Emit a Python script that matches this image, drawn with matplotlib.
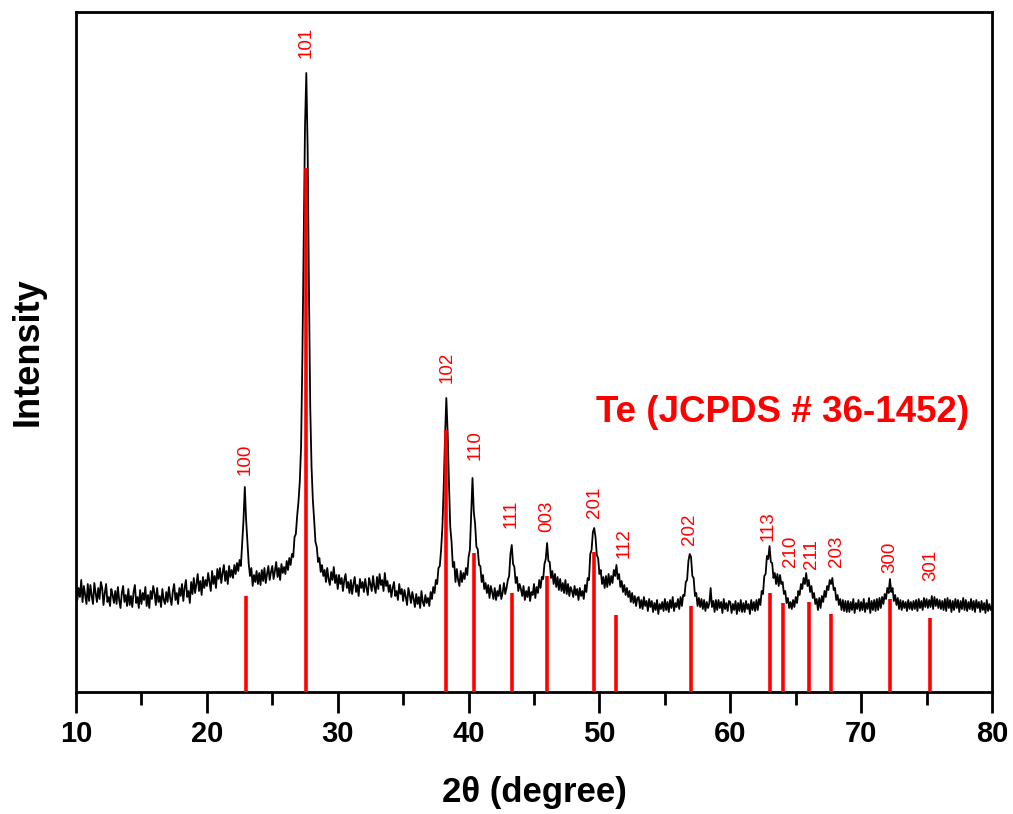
import matplotlib
matplotlib.use("Agg")
import matplotlib.pyplot as plt
import numpy as np

# ---- measured XRD trace: 2theta from 10.0 to 80.0, step 0.1 deg ----
two_theta_start = 10.0
two_theta_step = 0.1
intensity = [
    110, 92, 104, 95, 112, 90, 106, 97, 88, 108,      # 10
    91, 107, 96, 88, 109, 99, 90, 104, 93, 110,       # 11
    104, 87, 99, 108, 90, 95, 86, 103, 97, 89,        # 12
    101, 88, 105, 92, 84, 99, 106, 90, 97, 86,        # 13
    103, 87, 96, 85, 100, 107, 89, 95, 84, 102,       # 14
    88, 99, 92, 105, 86, 97, 84, 101, 93, 106,        # 15
    99, 87, 104, 90, 96, 85, 103, 92, 88, 100,        # 16
    90, 105, 94, 87, 101, 108, 92, 99, 88, 104,       # 17
    96, 108, 91, 104, 112, 95, 101, 89, 110, 98,      # 18
    114, 99, 108, 118, 101, 111, 97, 115, 104, 112,   # 19
    106, 119, 110, 101, 121, 108, 116, 104, 123, 113, # 20
    124, 109, 119, 127, 111, 121, 108, 126, 115, 122, # 21
    114, 127, 118, 129, 121, 132, 126, 150, 172, 205, # 22
    172, 150, 128, 116, 124, 106, 117, 110, 121, 108, # 23
    119, 107, 122, 111, 124, 109, 118, 126, 112, 120, # 24
    126, 113, 121, 130, 115, 124, 112, 128, 119, 125, # 25
    118, 131, 122, 134, 127, 138, 135, 155, 158, 176, # 26
    190, 210, 245, 335, 455, 565, 619, 545, 405, 285, # 27
    225, 192, 172, 150, 145, 130, 134, 120, 127, 116, # 28
    122, 110, 124, 113, 107, 120, 112, 125, 109, 117, # 29
    103, 117, 108, 114, 101, 112, 118, 104, 110, 99,  # 30
    112, 98, 108, 115, 100, 107, 96, 113, 104, 110,   # 31
    100, 113, 104, 97, 114, 108, 101, 116, 105, 99,   # 32
    115, 103, 118, 107, 112, 101, 119, 106, 111, 100, # 33
    107, 95, 104, 110, 96, 101, 92, 108, 98, 103,     # 34
    91, 102, 95, 87, 104, 97, 89, 100, 93, 85,        # 35
    98, 88, 95, 84, 101, 90, 86, 97, 89, 94,          # 36
    86, 100, 93, 105, 99, 112, 108, 124, 126, 142,    # 37
    165, 205, 255, 294, 260, 210, 165, 150, 125, 130, # 38
    110, 123, 112, 106, 121, 110, 119, 113, 124, 117, # 39
    135, 142, 178, 214, 180, 168, 145, 143, 127, 126, # 40
    110, 117, 103, 109, 99, 107, 94, 106, 100, 93,    # 41
    104, 92, 101, 96, 107, 93, 99, 109, 98, 104,      # 42
    112, 116, 138, 147, 128, 125, 109, 115, 101, 108, # 43
    103, 96, 106, 92, 101, 95, 105, 91, 100, 97,      # 44
    108, 94, 105, 99, 112, 104, 115, 113, 128, 133,   # 45
    149, 131, 130, 114, 121, 108, 118, 105, 115, 102, # 46
    113, 101, 109, 99, 112, 98, 108, 96, 105, 101,    # 47
    95, 106, 97, 103, 92, 104, 96, 101, 93, 107,      # 48
    100, 114, 112, 138, 142, 160, 164, 155, 137, 134, # 49
    118, 122, 108, 115, 104, 116, 105, 118, 107, 116, # 50
    109, 122, 116, 127, 113, 118, 105, 111, 100, 107, # 51
    97, 104, 95, 101, 90, 99, 89, 96, 86, 94,         # 52
    95, 84, 92, 83, 95, 86, 91, 81, 93, 85,           # 53
    91, 80, 89, 82, 92, 78, 88, 83, 90, 81,           # 54
    93, 82, 90, 80, 92, 84, 95, 81, 89, 85,           # 55
    93, 83, 95, 86, 97, 96, 110, 112, 131, 138,       # 56
    135, 116, 114, 96, 99, 86, 94, 85, 93, 83,        # 57
    92, 81, 90, 84, 89, 104, 85, 91, 80, 92,          # 58
    82, 92, 84, 90, 79, 93, 83, 89, 81, 91,           # 59
    90, 79, 88, 82, 91, 78, 89, 81, 92, 80,           # 60
    89, 80, 91, 83, 88, 78, 92, 82, 90, 81,           # 61
    92, 82, 93, 87, 101, 98, 116, 118, 136, 133,      # 62
    146, 130, 129, 114, 119, 108, 118, 106, 117, 108, # 63
    110, 98, 101, 89, 94, 84, 90, 83, 92, 85,         # 64
    95, 89, 101, 97, 108, 103, 114, 108, 119, 106,    # 65
    112, 100, 106, 94, 99, 88, 93, 82, 94, 84,        # 66
    96, 90, 101, 95, 106, 102, 112, 108, 114, 102,    # 67
    104, 92, 97, 87, 93, 82, 92, 81, 91, 80,          # 68
    91, 80, 90, 82, 93, 79, 89, 83, 92, 81,           # 69
    90, 82, 93, 80, 89, 83, 94, 79, 91, 82,           # 70
    92, 81, 93, 82, 94, 84, 95, 88, 98, 93,           # 71
    104, 99, 113, 100, 104, 91, 97, 87, 94, 83,       # 72
    92, 82, 91, 84, 90, 81, 92, 83, 90, 82,           # 73
    91, 83, 92, 81, 93, 84, 91, 82, 94, 85,           # 74
    93, 84, 92, 85, 96, 83, 95, 86, 93, 84,           # 75
    92, 83, 91, 82, 93, 81, 94, 84, 92, 80,           # 76
    91, 82, 93, 84, 92, 80, 91, 83, 94, 82,           # 77
    92, 81, 90, 83, 93, 82, 91, 80, 92, 84,           # 78
    90, 80, 91, 82, 89, 79, 92, 81, 88, 82,           # 79
    86,                                               # 80
]

# ---- JCPDS 36-1452 reference lines ----
ref_pos = [23.0, 27.6, 38.3, 40.4, 43.3, 46.0, 49.6, 51.3, 57.0, 63.0, 64.0, 66.0, 67.7, 72.2, 75.3]
ref_int = [96, 524, 262, 139, 99, 116, 140, 77, 86, 99, 89, 90, 78, 93, 74]

# ---- hkl labels ----
hkl_text = ["100", "101", "102", "110", "111", "003", "201", "112", "202",
            "113", "210", "211", "203", "300", "301"]
hkl_x = [22.9, 27.6, 38.35, 40.5, 43.25, 46.0, 49.65, 51.9, 56.9,
         62.9, 64.6, 66.2, 68.1, 72.2, 75.3]
hkl_y = [217, 634, 309, 232, 164, 160, 174, 134, 147,
         151, 125, 123, 125, 119, 111]

x_ticks = [10, 20, 30, 40, 50, 60, 70, 80]

two_theta = two_theta_start + two_theta_step * np.arange(len(intensity))

plt.rcParams['font.family'] = ['Liberation Sans', 'DejaVu Sans']

fig = plt.figure(figsize=(10.13, 8.14), dpi=100)
ax = fig.add_axes([76/1013, 122/814, (992-76)/1013, (692-12)/814])

ax.plot(two_theta, intensity, color='black', lw=1.3, zorder=2)
ax.vlines(ref_pos, 0, ref_int, colors='#ff0000', lw=2.6, zorder=3)

for t, x, y in zip(hkl_text, hkl_x, hkl_y):
    ax.text(x, y, t, rotation=90, color='#ff0000', fontsize=13.5,
            ha='center', va='bottom')

ax.text(0.975, (692-430)/680, "Te (JCPDS # 36-1452)", transform=ax.transAxes,
        color='#ff0000', fontsize=26.5, fontweight='bold', ha='right', va='bottom')

ax.set_xlim(10, 80)
ax.set_ylim(0, 680)
ax.set_xticks(x_ticks)
ax.set_xticks(np.arange(15, 80, 10), minor=True)
ax.set_yticks([])
ax.tick_params(axis='x', which='major', direction='out', length=15, width=2,
               labelsize=21, pad=5)
ax.tick_params(axis='x', which='minor', direction='out', length=9, width=2)
for lab in ax.get_xticklabels():
    lab.set_fontweight('bold')
for s in ax.spines.values():
    s.set_linewidth(2)

ax.set_xlabel("2θ (degree)", fontsize=25, fontweight='bold', labelpad=20)
ax.set_ylabel("Intensity", fontsize=26, fontweight='bold', labelpad=22)

fig.savefig("out.png", dpi=100)
